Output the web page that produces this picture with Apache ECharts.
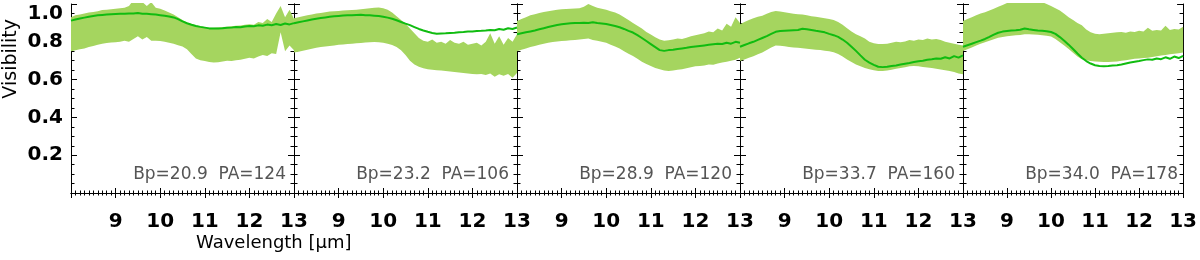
<!DOCTYPE html>
<html><head><meta charset="utf-8">
<script src="https://cdn.jsdelivr.net/npm/echarts@6/dist/echarts.min.js"></script>
<style>html,body{margin:0;padding:0;background:#fff}#c{width:1200px;height:260px}</style>
</head><body><div id="c"></div>
<script>
const wavelength = [8.0,8.1,8.2,8.3,8.4,8.5,8.6,8.7,8.8,8.9,
  9.0,9.1,9.2,9.3,9.4,9.5,9.6,9.7,9.8,9.9,
  10.0,10.1,10.2,10.3,10.4,10.5,10.6,10.7,10.8,10.9,
  11.0,11.1,11.2,11.3,11.4,11.5,11.6,11.7,11.8,11.9,
  12.0,12.1,12.2,12.3,12.4,12.5,12.6,12.7,12.8,12.9,13.0];
const yTickValues = [0.2, 0.4, 0.6, 0.8, 1.0];
const panelLabels = ['Bp=20.9  PA=124','Bp=23.2  PA=106','Bp=28.9  PA=120','Bp=33.7  PA=160','Bp=34.0  PA=178'];

const line1 = [0.912,0.918,0.923,0.928,0.933,0.937,0.940,0.942,0.944,0.946,
 0.947,0.948,0.948,0.950,0.950,0.952,0.949,0.948,0.946,0.944,
 0.941,0.938,0.934,0.929,0.920,0.908,0.898,0.890,0.884,0.879,
 0.875,0.871,0.870,0.871,0.872,0.874,0.875,0.878,0.877,0.881,
 0.884,0.882,0.887,0.885,0.891,0.888,0.894,0.889,0.897,0.892,0.899];
const upper1 = [0.930,0.940,0.945,0.950,0.955,0.958,0.962,0.968,0.970,0.972,
 0.975,0.978,0.980,0.990,1.020,1.030,1.010,0.990,1.010,0.980,
 0.975,0.965,0.955,0.945,0.930,0.915,0.902,0.895,0.888,0.882,
 0.878,0.875,0.874,0.876,0.878,0.880,0.882,0.885,0.886,0.890,
 0.893,0.890,0.905,0.900,0.920,0.905,0.950,0.990,0.930,0.970,0.920];
const lower1 = [0.750,0.755,0.760,0.765,0.772,0.778,0.784,0.790,0.793,0.796,
 0.798,0.800,0.805,0.800,0.815,0.830,0.812,0.825,0.806,0.805,
 0.804,0.800,0.795,0.790,0.782,0.775,0.760,0.735,0.712,0.703,
 0.698,0.693,0.690,0.692,0.696,0.700,0.698,0.702,0.705,0.710,
 0.715,0.712,0.722,0.730,0.725,0.740,0.735,0.850,0.750,0.780,0.755];

const line2 = [0.898,0.903,0.908,0.913,0.918,0.922,0.926,0.929,0.932,0.935,
 0.937,0.939,0.940,0.941,0.942,0.943,0.941,0.940,0.938,0.936,
 0.933,0.928,0.922,0.914,0.905,0.896,0.888,0.878,0.868,0.860,
 0.853,0.847,0.843,0.844,0.845,0.847,0.848,0.851,0.852,0.854,
 0.855,0.857,0.858,0.860,0.863,0.861,0.868,0.864,0.872,0.868,0.876];
const upper2 = [0.925,0.930,0.935,0.940,0.945,0.950,0.953,0.956,0.960,0.962,
 0.963,0.965,0.967,0.968,0.970,0.972,0.975,0.978,0.980,0.982,
 0.978,0.970,0.955,0.935,0.915,0.895,0.870,0.845,0.820,0.805,
 0.800,0.812,0.795,0.800,0.790,0.810,0.795,0.790,0.800,0.785,
 0.790,0.795,0.780,0.800,0.845,0.790,0.830,0.785,0.820,0.800,0.840];
const lower2 = [0.743,0.748,0.753,0.758,0.763,0.768,0.772,0.775,0.778,0.781,
 0.784,0.786,0.788,0.790,0.792,0.794,0.796,0.798,0.799,0.798,
 0.795,0.790,0.783,0.772,0.755,0.730,0.700,0.680,0.668,0.660,
 0.655,0.652,0.650,0.648,0.645,0.643,0.640,0.638,0.635,0.632,
 0.630,0.628,0.630,0.625,0.632,0.615,0.628,0.620,0.630,0.610,0.635];

const line3 = [0.840,0.845,0.850,0.855,0.860,0.866,0.872,0.878,0.884,0.889,
 0.893,0.896,0.898,0.899,0.900,0.901,0.899,0.903,0.899,0.897,
 0.894,0.889,0.884,0.877,0.868,0.858,0.849,0.835,0.820,0.804,
 0.788,0.772,0.756,0.752,0.756,0.758,0.762,0.765,0.768,0.772,
 0.775,0.778,0.781,0.784,0.787,0.790,0.788,0.795,0.790,0.800,0.795];
const upper3 = [0.910,0.920,0.930,0.940,0.946,0.952,0.958,0.962,0.966,0.970,
 0.972,0.973,0.975,0.976,0.978,0.985,1.000,0.990,0.980,0.975,
 0.970,0.962,0.955,0.945,0.930,0.915,0.900,0.885,0.870,0.852,
 0.838,0.824,0.812,0.806,0.808,0.812,0.818,0.815,0.822,0.830,
 0.835,0.840,0.845,0.855,0.850,0.870,0.860,0.895,0.880,0.930,0.900];
const lower3 = [0.750,0.758,0.765,0.772,0.778,0.784,0.790,0.795,0.799,0.802,
 0.804,0.806,0.808,0.810,0.812,0.815,0.818,0.810,0.806,0.800,
 0.795,0.785,0.775,0.765,0.750,0.737,0.725,0.710,0.695,0.682,
 0.672,0.662,0.655,0.648,0.645,0.648,0.652,0.655,0.660,0.665,
 0.670,0.672,0.675,0.680,0.678,0.685,0.690,0.695,0.700,0.705,0.715];

const line4 = [0.774,0.783,0.792,0.800,0.810,0.820,0.830,0.842,0.853,0.857,
 0.859,0.860,0.861,0.862,0.869,0.866,0.862,0.858,0.855,0.850,
 0.842,0.835,0.826,0.812,0.795,0.774,0.752,0.728,0.705,0.690,
 0.678,0.668,0.666,0.668,0.672,0.675,0.680,0.684,0.688,0.693,
 0.697,0.700,0.705,0.708,0.712,0.710,0.718,0.712,0.724,0.716,0.728];
const upper4 = [0.893,0.905,0.915,0.925,0.932,0.938,0.948,0.958,0.963,0.960,
 0.956,0.952,0.948,0.946,0.944,0.940,0.935,0.932,0.928,0.925,
 0.920,0.915,0.905,0.890,0.872,0.855,0.840,0.830,0.818,0.800,
 0.792,0.788,0.788,0.790,0.795,0.800,0.798,0.802,0.810,0.805,
 0.812,0.810,0.818,0.812,0.815,0.810,0.800,0.795,0.790,0.785,0.780];
const lower4 = [0.698,0.706,0.715,0.724,0.734,0.743,0.756,0.770,0.780,0.779,
 0.776,0.773,0.770,0.768,0.766,0.763,0.760,0.758,0.756,0.753,
 0.750,0.745,0.735,0.722,0.707,0.693,0.680,0.670,0.662,0.655,
 0.650,0.646,0.645,0.648,0.652,0.657,0.662,0.666,0.670,0.672,
 0.670,0.667,0.664,0.662,0.658,0.654,0.650,0.645,0.640,0.632,0.628];

const line5 = [0.774,0.782,0.790,0.798,0.806,0.815,0.826,0.838,0.848,0.854,
 0.857,0.860,0.861,0.864,0.870,0.866,0.863,0.860,0.858,0.856,
 0.852,0.842,0.825,0.806,0.785,0.762,0.738,0.716,0.698,0.685,
 0.676,0.672,0.671,0.672,0.674,0.676,0.680,0.685,0.690,0.694,
 0.698,0.703,0.707,0.705,0.712,0.708,0.718,0.710,0.722,0.714,0.726];
const upper5 = [0.910,0.920,0.930,0.940,0.950,0.957,0.965,0.975,0.985,0.995,
 1.005,1.015,1.020,1.025,1.030,1.030,1.025,1.020,1.010,1.000,
 0.990,0.978,0.965,0.948,0.930,0.915,0.900,0.888,0.865,0.850,
 0.842,0.840,0.842,0.845,0.848,0.850,0.852,0.848,0.855,0.852,
 0.858,0.855,0.875,0.858,0.862,0.860,0.885,0.862,0.868,0.865,0.880];
const lower5 = [0.751,0.760,0.770,0.780,0.790,0.797,0.805,0.814,0.822,0.826,
 0.830,0.832,0.834,0.836,0.840,0.840,0.839,0.837,0.835,0.832,
 0.828,0.815,0.798,0.780,0.762,0.742,0.722,0.708,0.702,0.698,
 0.696,0.694,0.693,0.693,0.694,0.696,0.700,0.703,0.707,0.710,
 0.712,0.714,0.716,0.720,0.723,0.727,0.730,0.734,0.737,0.740,0.743];

const lines = [line1, line2, line3, line4, line5];
const uppers = [upper1, upper2, upper3, upper4, upper5];
const lowers = [lower1, lower2, lower3, lower4, lower5];

const BAND = '#a5d55f';
const LINE = '#10bc10';
const TICKFONT = {fontFamily: 'DejaVu Sans', fontWeight: 'bold', fontSize: 20, color: '#000'};
const LEFT0 = 71, PW = 223, TOP = 4, PH = 189;

const grids = [], xAxes = [], yAxes = [], series = [], graphics = [];
const axisLine = {show: true, lineStyle: {color: '#000', width: 1}};

lines.forEach((ln, i) => {
  grids.push({left: LEFT0 + i * PW, top: TOP, width: PW, height: PH});
  const xBase = {
    type: 'value', gridIndex: i, min: 8, max: 13, interval: 1,
    axisLine: axisLine, splitLine: {show: false},
    axisTick: {show: true, inside: true, length: 5, lineStyle: {color: '#000'}},
    minorTick: {show: true, splitNumber: 10, length: 2.5, lineStyle: {color: '#000'}},
    minorSplitLine: {show: false}
  };
  xAxes.push(Object.assign({}, xBase, {position: 'bottom',
    axisLabel: Object.assign({show: true, margin: 19, showMinLabel: false, showMaxLabel: true,
      formatter: v => String(v)}, TICKFONT)}));
  xAxes.push(Object.assign({}, xBase, {position: 'top', axisLabel: {show: false}}));
  xAxes.push({type: 'category', gridIndex: i, show: false, boundaryGap: false,
    data: wavelength.map(String), position: 'bottom'});
  const yBase = {
    type: 'value', gridIndex: i, min: 0, max: 1, interval: 0.2,
    axisLine: axisLine, splitLine: {show: false},
    axisTick: {show: true, inside: true, length: 6, lineStyle: {color: '#000'}},
    minorTick: {show: true, splitNumber: 4, length: 3.5, lineStyle: {color: '#000'}},
    minorSplitLine: {show: false}
  };
  yAxes.push(Object.assign({}, yBase, {position: 'left',
    axisLabel: i === 0 ? Object.assign({show: true, margin: 8,
      formatter: v => {
        if (v === 0) return '';
        const s = v.toFixed(1);
        return v >= 1 ? '{t|' + s + '}' : s;
      },
      rich: {t: Object.assign({padding: [20, 0, 0, 0]}, TICKFONT)}
    }, TICKFONT) : {show: false}}));
  yAxes.push(Object.assign({}, yBase, {position: 'right', axisLabel: {show: false}}));

  const catIdx = 3 * i + 2;
  series.push({type: 'line', xAxisIndex: catIdx, yAxisIndex: 2 * i, data: lowers[i],
    stack: 'band' + i, symbol: 'none', silent: true, lineStyle: {opacity: 0}, z: 1});
  series.push({type: 'line', xAxisIndex: catIdx, yAxisIndex: 2 * i,
    data: uppers[i].map((u, k) => +(u - lowers[i][k]).toFixed(4)),
    stack: 'band' + i, symbol: 'none', silent: true, lineStyle: {opacity: 0},
    areaStyle: {color: BAND, opacity: 1}, z: 1});
  series.push({type: 'line', xAxisIndex: catIdx, yAxisIndex: 2 * i, data: ln,
    symbol: 'none', silent: true, lineStyle: {color: LINE, width: 2}, z: 3});

  graphics.push({type: 'text', right: 1200 - (LEFT0 + (i + 1) * PW) + 8, top: 166,
    style: {text: panelLabels[i], fill: '#555', font: '17px "DejaVu Sans"'}});
});

graphics.push({type: 'text', left: 2, top: 19, rotation: Math.PI / 2,
  style: {text: 'Visibility', fill: '#000', font: '19px "DejaVu Sans"'}});
graphics.push({type: 'text', left: 196, top: 234,
  style: {text: 'Wavelength [μm]', fill: '#000', font: '18px "DejaVu Sans"'}});

const chart = echarts.init(document.getElementById('c'), null, {renderer: 'canvas'});
chart.setOption({
  animation: false,
  backgroundColor: '#fff',
  grid: grids, xAxis: xAxes, yAxis: yAxes, series: series, graphic: graphics
});
</script></body></html>
